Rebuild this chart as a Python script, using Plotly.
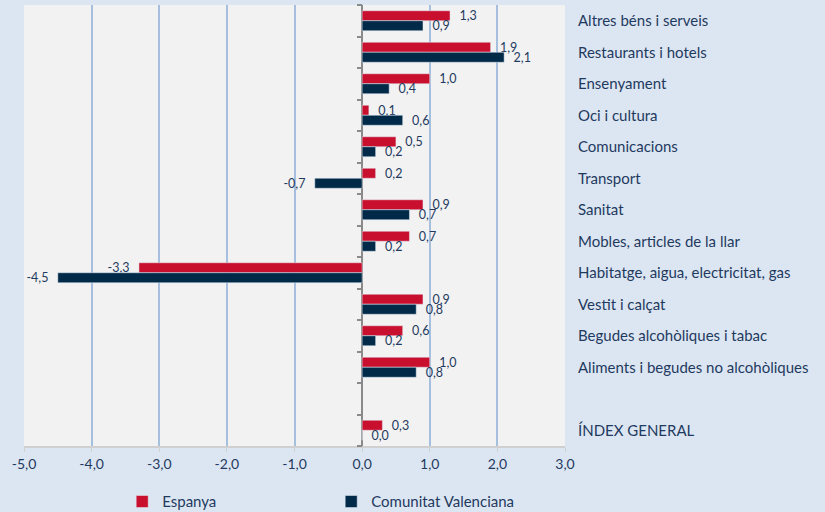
import plotly.graph_objects as go

categories = [
    "Altres béns i serveis",
    "Restaurants i hotels",
    "Ensenyament",
    "Oci i cultura",
    "Comunicacions",
    "Transport",
    "Sanitat",
    "Mobles, articles de la llar",
    "Habitatge, aigua, electricitat, gas",
    "Vestit i calçat",
    "Begudes alcohòliques i tabac",
    "Aliments i begudes no alcohòliques",
    " ",
    "ÍNDEX GENERAL",
]
espanya = [1.3, 1.9, 1.0, 0.1, 0.5, 0.2, 0.9, 0.7, -3.3, 0.9, 0.6, 1.0, None, 0.3]
valencia = [0.9, 2.1, 0.4, 0.6, 0.2, -0.7, 0.7, 0.2, -4.5, 0.8, 0.2, 0.8, None, 0.0]
x_tickvals = [-5, -4, -3, -2, -1, 0, 1, 2, 3]
x_ticktext = ["-5,0", "-4,0", "-3,0", "-2,0", "-1,0", "0,0", "1,0", "2,0", "3,0"]

RED = "#c8102e"
NAVY = "#002a48"
TXT = "#1f3a5f"
FONT = "Lato, Open Sans, sans-serif"
NB = "\u00a0\u00a0"


def labels(vals):
    out = []
    for v in vals:
        if v is None:
            out.append("")
        else:
            s = f"{v:.1f}".replace(".", ",")
            out.append(s + NB if v < 0 else NB + s)
    return out


fig = go.Figure()
fig.add_trace(go.Bar(
    name="Espanya", y=categories, x=espanya, orientation="h",
    marker_color=RED, text=labels(espanya), textposition="outside",
    textfont=dict(color=TXT, size=12.5, family=FONT), cliponaxis=False,
    constraintext="none",
))
fig.add_trace(go.Bar(
    name="Comunitat Valenciana", y=categories, x=valencia, orientation="h",
    marker_color=NAVY, text=labels(valencia), textposition="outside",
    textfont=dict(color=TXT, size=12.5, family=FONT), cliponaxis=False,
    constraintext="none",
))
# helper (invisible) trace so that the tick-only axis at x = 0 is drawn
fig.add_trace(go.Scatter(
    x=[None], y=[None], yaxis="y2", mode="markers",
    marker=dict(opacity=0), showlegend=False, hoverinfo="skip",
))

fig.update_layout(
    width=825, height=512,
    margin=dict(l=24, r=260, t=5, b=66),
    paper_bgcolor="#dce6f2",
    plot_bgcolor="#f2f2f2",
    barmode="group", bargap=0.365, bargroupgap=0,
    font=dict(family=FONT, color=TXT, size=13),
    showlegend=True,
    legend=dict(
        orientation="h", x=0.1815, xanchor="left",
        yref="container", y=0.02, yanchor="middle",
        font=dict(size=15, color=TXT, family=FONT), bgcolor="rgba(0,0,0,0)",
        entrywidth=164, itemwidth=30,
    ),
    xaxis=dict(
        range=[-5, 3], tickvals=x_tickvals, ticktext=x_ticktext,
        showgrid=True, gridcolor="#a7bfde", gridwidth=1.5,
        zeroline=True, zerolinecolor="#8a8a8a", zerolinewidth=1.5,
        showline=True, linecolor="#d0d0d0", linewidth=1.5,
        ticks="outside", ticklen=4, tickcolor="#d0d0d0",
        tickfont=dict(size=14, color=TXT, family=FONT),
        fixedrange=True,
    ),
    yaxis=dict(
        autorange="reversed", side="right", showgrid=False, ticks="",
        showline=False, ticklabelstandoff=12,
        tickfont=dict(size=15, color=TXT, family=FONT),
        fixedrange=True,
    ),
    yaxis2=dict(
        type="linear",
        overlaying="y", anchor="free", position=0.625, side="left",
        range=[len(categories) - 0.5, -0.5],
        tickvals=[i - 0.5 for i in range(len(categories) + 1)],
        ticks="outside", ticklen=5, tickcolor="#8a8a8a", tickwidth=1.5,
        showticklabels=False, showgrid=False, showline=False, zeroline=False,
        fixedrange=True,
    ),
)

fig.write_html("out.html")
